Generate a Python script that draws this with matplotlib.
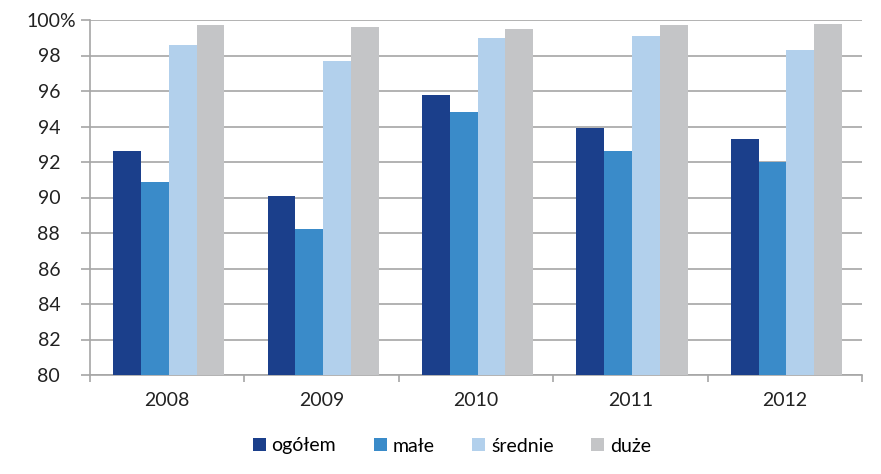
import matplotlib
matplotlib.use("Agg")
import matplotlib.pyplot as plt
import numpy as np
from matplotlib.patches import Patch
from matplotlib.transforms import blended_transform_factory

years = ["2008", "2009", "2010", "2011", "2012"]
series_names = ["ogółem", "małe", "średnie", "duże"]
ogolem = [92.6, 90.1, 95.8, 93.9, 93.3]
male = [90.9, 88.2, 94.8, 92.6, 92.0]
srednie = [98.6, 97.7, 99.0, 99.1, 98.3]
duze = [99.7, 99.6, 99.5, 99.7, 99.8]
y_ticks = [80, 82, 84, 86, 88, 90, 92, 94, 96, 98, 100]
y_labels = ["80", "82", "84", "86", "88", "90", "92", "94", "96", "98", "100%"]

colors = ["#1B3F8B", "#3A8BC9", "#B2D0EC", "#C4C5C7"]
grid_c = "#A6A6A6"
text_c = "#222222"

plt.rcParams['font.family'] = ['Lato', 'DejaVu Sans']

fig = plt.figure(figsize=(8.81, 4.74), dpi=100)
ax = fig.add_axes([90/881, 1-375/474, (862-90)/881, (375-20)/474])

x = np.arange(len(years))
bw = 0.18
data = [ogolem, male, srednie, duze]
for i, (vals, c) in enumerate(zip(data, colors)):
    ax.bar(x + (i - 1.5) * bw + 0.01, vals, width=bw, color=c, zorder=3)

ax.set_ylim(80, 100)
ax.set_xlim(-0.5, len(years) - 0.5)
ax.set_yticks(y_ticks)
# top label ("100%") is drawn separately so that its numeric part lines up
ax.set_yticklabels(y_labels[:-1] + [""], fontsize=14, color=text_c)
trans = blended_transform_factory(fig.transFigure, ax.transData)
ax.text(26/881, y_ticks[-1], y_labels[-1], transform=trans, ha='left',
        va='center_baseline', fontsize=14, color=text_c)
ax.yaxis.grid(True, color=grid_c, linewidth=1.2, zorder=0)
ax.set_axisbelow(True)

ax.set_xticks(x)
ax.set_xticklabels(years, fontsize=14, color=text_c)
ax.tick_params(axis='x', length=0, pad=12)
ax.set_xticks(np.arange(len(years) + 1) - 0.5, minor=True)
ax.tick_params(axis='x', which='minor', length=5, color=grid_c, width=1.2)
ax.tick_params(axis='y', length=6.5, color=grid_c, width=1.2, pad=15)

for s in ["top", "right"]:
    ax.spines[s].set_visible(False)
for s in ["left", "bottom"]:
    ax.spines[s].set_color(grid_c)
    ax.spines[s].set_linewidth(1.2)

handles = [Patch(facecolor=c, edgecolor='none') for c in colors]
fig.legend(handles, series_names, loc="center", bbox_to_anchor=(452/881, 1-446/474),
           ncol=4, frameon=False, handlelength=0.65, handleheight=0.65,
           handletextpad=0.3, columnspacing=1.95,
           prop={'family': ['Lato', 'DejaVu Sans'], 'size': 14})

fig.savefig("out.png", dpi=100)
